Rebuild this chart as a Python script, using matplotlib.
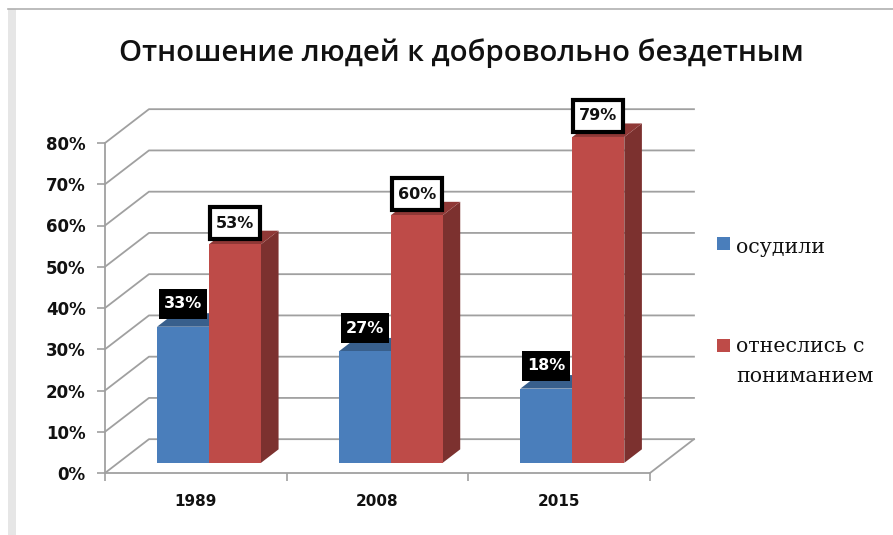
import matplotlib
matplotlib.use("Agg")
import matplotlib.pyplot as plt
from matplotlib.patches import Polygon, Rectangle

years = ["1989", "2008", "2015"]
condemned = [33, 27, 18]
understood = [53, 60, 79]
y_ticks = [0, 10, 20, 30, 40, 50, 60, 70, 80]
series_names = ["осудили", "отнеслись с\nпониманием"]

BLUE = "#4a7ebb"
RED = "#be4b48"
GRID = "#a0a0a0"
W, H = 893, 535

# oblique offset of the back wall, in data units
DEPTH_X = 0.242
DEPTH_Y = 8.2
BAR_W = 0.286
BAR_X0 = 0.214
BAR_D0 = 0.30
BAR_D1 = 0.70


def proj(x, y, d):
    return x + d * DEPTH_X, y + d * DEPTH_Y


def darker(c, f):
    rgb = matplotlib.colors.to_rgb(c)
    return tuple(v * f for v in rgb)


def draw_bar(ax, x, w, h, color, z):
    a = proj(x, 0, BAR_D0)
    b = proj(x + w, 0, BAR_D0)
    c = proj(x + w, h, BAR_D0)
    d = proj(x, h, BAR_D0)
    c2 = proj(x + w, h, BAR_D1)
    b2 = proj(x + w, 0, BAR_D1)
    d2 = proj(x, h, BAR_D1)
    ax.add_patch(Polygon([b, b2, c2, c], fc=darker(color, 0.65), ec="none", zorder=z, clip_on=False))
    ax.add_patch(Polygon([d, c, c2, d2], fc=darker(color, 0.75), ec="none", zorder=z, clip_on=False))
    ax.add_patch(Polygon([a, b, c, d], fc=color, ec="none", zorder=z + 0.1, clip_on=False))


def draw_label(ax, x, y, text, above, bw, bh, fc, ec, lw, tc):
    # label box sized in pixels, placed above the top of the bar front
    px, py = ax.transData.transform(proj(x, y, BAR_D0))
    py += above
    ax.add_patch(Rectangle((px - bw / 2, py - bh / 2), bw, bh, fc=fc, ec=ec, lw=lw,
                           transform=None, zorder=10, clip_on=False))
    ax.annotate(text, (px, py), xycoords="figure pixels", ha="center", va="center", fontsize=11.5,
                fontweight="bold", color=tc, zorder=11, annotation_clip=False)


fig = plt.figure(figsize=(W / 100, H / 100), dpi=100)
fig.patch.set_facecolor("white")

# slide frame around the chart
fig.add_artist(Rectangle((8 / W, 0), 8 / W, 1 - 9 / H, fc="#e6e6e6", ec="none"))
fig.add_artist(plt.Line2D([8 / W, 1], [1 - 8.5 / H, 1 - 8.5 / H], color="#b0b0b0", lw=1.2))

ax = fig.add_axes([105 / W, 1 - 473 / H, (650 - 105) / W, (473 - 143) / H])
ax.set_xlim(0, 3)
ax.set_ylim(0, 80)
ax.patch.set_alpha(0)
for s in ["top", "right"]:
    ax.spines[s].set_visible(False)
for s in ["left", "bottom"]:
    ax.spines[s].set_color(GRID)
    ax.spines[s].set_linewidth(1.3)

# gridlines on the walls
for v in y_ticks:
    p0 = proj(0, v, 0)
    p1 = proj(0, v, 1)
    p2 = proj(3, v, 1)
    ax.plot([p0[0], p1[0], p2[0]], [p0[1], p1[1], p2[1]], color=GRID, lw=1.3, zorder=1, clip_on=False)
f0 = proj(3, 0, 0)
f1 = proj(3, 0, 1)
ax.plot([f0[0], f1[0]], [f0[1], f1[1]], color=GRID, lw=1.3, zorder=1, clip_on=False)

ax.set_yticks(y_ticks)
ax.set_yticklabels([f"{v}%" for v in y_ticks], fontsize=12, fontweight="bold", family="DejaVu Sans", color="#111111")
ax.set_xticks([0, 1, 2, 3])
ax.set_xticklabels([])
ax.set_xticks([0.5, 1.5, 2.5], minor=True)
ax.set_xticklabels(years, minor=True, fontsize=11, fontweight="bold", family="DejaVu Sans", color="#111111")
ax.tick_params(axis="x", which="minor", length=0, pad=15)
ax.tick_params(axis="both", which="major", color=GRID, length=6, width=1.2)
ax.tick_params(axis="y", pad=8)

for i in range(3):
    x0 = i + BAR_X0
    draw_bar(ax, x0, BAR_W, condemned[i], BLUE, 3 + i)
    draw_bar(ax, x0 + BAR_W, BAR_W, understood[i], RED, 3.5 + i)
    draw_label(ax, x0 + BAR_W / 2, condemned[i], f"{condemned[i]}%", 23, 48, 30, "black", "black", 0, "white")
    draw_label(ax, x0 + BAR_W * 1.5, understood[i], f"{understood[i]}%", 21, 50, 32, "white", "black", 3, "#111111")

fig.text(461 / W, 1 - 53 / H, "Отношение людей к добровольно бездетным", ha="center", va="center",
         fontsize=21.2, fontweight=600, family="Open Sans", color="#111111")

# legend
for name, color, yp, top in zip(series_names, [BLUE, RED], [243, 345], [238, 337]):
    fig.add_artist(Rectangle((717 / W, 1 - (yp + 6.5) / H), 13 / W, 13 / H, fc=color, ec="none"))
    fig.text(736 / W, 1 - top / H, name, ha="left", va="top", fontsize=14.8, family="DejaVu Serif",
             color="#111111", linespacing=1.75)

fig.savefig("out.png", dpi=100)
